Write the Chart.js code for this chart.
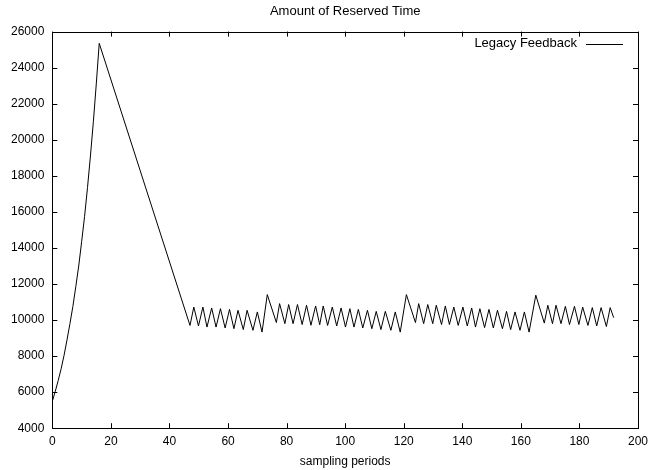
<!DOCTYPE html>
<html>
<head>
<meta charset="utf-8">
<script src="https://cdn.jsdelivr.net/npm/chart.js@4"></script>
<style>
html, body { margin: 0; padding: 0; background: #fff; }
</style>
</head>
<body>
<canvas id="myChart" width="650" height="470"></canvas>
<script>
// Dữ liệu: chu kỳ lấy mẫu và thời gian đặt trước
const chartTitle = 'Amount of Reserved Time';
const xTitle = 'sampling periods';
const seriesName = 'Legacy Feedback';

const periods = [
    0, 1, 2, 3, 4, 5, 6, 7, 8, 9, 10, 11, 12, 13, 14, 15, 16,
    47.0, 48.3, 49.9, 51.4, 52.8, 54.4, 55.9, 57.4, 59.0, 60.5, 62.0, 63.4, 65.2, 66.5, 68.5, 70.0, 71.6,
    73.4, 76.5, 77.6, 79.4, 80.7, 82.2, 83.7, 85.3, 86.8, 88.3, 89.9, 91.3, 92.5, 94.0, 95.6, 97.1, 98.6,
    100.1, 101.6, 103.0, 104.5, 106.0, 107.6, 109.1, 110.6, 112.2, 113.7, 115.6, 117.1, 118.8,
    120.9, 124.0, 125.1, 126.8, 128.2, 129.9, 131.1, 132.9, 134.2, 135.6, 137.1, 138.6, 140.2, 141.7,
    143.2, 144.5, 146.0, 147.6, 149.1, 150.6, 152.0, 153.7, 155.1, 156.5, 158.0, 159.7, 161.2, 162.8,
    165.1, 168.0, 169.2, 170.8, 172.0, 173.7, 175.2, 176.6, 178.3, 179.8, 181.1, 182.9, 184.4, 185.9,
    187.4, 189.2, 190.5, 191.7
];
const reservedTime = [
    5500, 6050, 6650, 7300, 8050, 8900, 9800, 10750, 11850, 13000, 14350, 15750, 17350, 19100, 21000, 23100, 25350,
    9700, 10720, 9670, 10720, 9610, 10670, 9610, 10630, 9560, 10590, 9520, 10540, 9470, 10540, 9430, 10450, 9330,
    11410, 9860, 10910, 9800, 10860, 9800, 10860, 9750, 10820, 9710, 10780, 9740, 10780, 9700, 10720, 9670, 10670,
    9610, 10630, 9610, 10590, 9560, 10540, 9520, 10480, 9470, 10480, 9430, 10450, 9330,
    11410, 9860, 10910, 9800, 10860, 9800, 10820, 9750, 10780, 9750, 10720, 9700, 10720, 9670,
    10670, 9610, 10630, 9580, 10590, 9560, 10540, 9520, 10480, 9470, 10450, 9430, 10450, 9330,
    11380, 9830, 10820, 9800, 10820, 9800, 10760, 9750, 10760, 9750, 10720, 9700, 10690, 9670,
    10690, 9640, 10690, 10130
];

// Giới hạn trục
const xMin = 0, xMax = 200, xStep = 20;
const yMin = 4000, yMax = 26000, yStep = 2000;

const fontFamily = '"Liberation Sans", Arial, Helvetica, sans-serif';

// Khung và vạch chia hướng vào trong (kiểu gnuplot)
const frameTicks = {
    id: 'frameTicks',
    afterDraw(chart) {
        const { ctx, chartArea: a, scales } = chart;
        const tl = 5;
        ctx.save();
        ctx.strokeStyle = '#000';
        ctx.lineWidth = 1;
        ctx.strokeRect(Math.round(a.left) + 0.5, Math.round(a.top) + 0.5,
            Math.round(a.right) - Math.round(a.left), Math.round(a.bottom) - Math.round(a.top));
        ctx.beginPath();
        for (const t of scales.x.ticks) {
            const px = Math.round(scales.x.getPixelForValue(t.value)) + 0.5;
            ctx.moveTo(px, a.bottom); ctx.lineTo(px, a.bottom - tl);
            ctx.moveTo(px, a.top); ctx.lineTo(px, a.top + tl);
        }
        for (const t of scales.y.ticks) {
            const py = Math.round(scales.y.getPixelForValue(t.value)) + 0.5;
            ctx.moveTo(a.left, py); ctx.lineTo(a.left + tl, py);
            ctx.moveTo(a.right, py); ctx.lineTo(a.right - tl, py);
        }
        ctx.stroke();

        // Chú thích: chữ bên trái, mẫu đường bên phải
        const ds = chart.data.datasets[0];
        const ly = a.top + 12;
        ctx.font = '13px ' + fontFamily;
        ctx.fillStyle = '#000';
        ctx.textAlign = 'right';
        ctx.textBaseline = 'middle';
        ctx.fillText(ds.label, a.right - 61, ly);
        ctx.beginPath();
        ctx.strokeStyle = ds.borderColor;
        ctx.lineWidth = ds.borderWidth;
        ctx.moveTo(a.right - 52, Math.round(ly) + 0.5);
        ctx.lineTo(a.right - 15, Math.round(ly) + 0.5);
        ctx.stroke();
        ctx.restore();
    }
};

const ctx = document.getElementById('myChart');
new Chart(ctx, {
    type: 'line',
    data: {
        datasets: [{
            label: seriesName,
            data: periods.map((p, i) => ({ x: p, y: reservedTime[i] })),
            borderColor: '#000',
            backgroundColor: '#000',
            borderWidth: 1,
            pointRadius: 0,
            tension: 0,
            fill: false
        }]
    },
    options: {
        responsive: false,
        animation: false,
        layout: { padding: { left: 3, right: 0, top: 0, bottom: 0 } },
        plugins: {
            title: {
                display: true,
                text: chartTitle,
                fullSize: false,
                color: '#000',
                font: { family: fontFamily, size: 13, weight: 'normal' },
                padding: { top: 4, bottom: 12 }
            },
            legend: { display: false },
            tooltip: { enabled: false }
        },
        scales: {
            x: {
                type: 'linear',
                min: xMin, max: xMax,
                grid: { display: false, drawTicks: false },
                border: { display: false },
                afterFit: scale => { scale.paddingRight = 12; },
                ticks: {
                    stepSize: xStep,
                    color: '#000',
                    padding: 6,
                    maxRotation: 0,
                    font: { family: fontFamily, size: 12 }
                },
                title: {
                    display: true,
                    text: xTitle,
                    color: '#000',
                    font: { family: fontFamily, size: 12 },
                    padding: { top: 0, bottom: 1 }
                }
            },
            y: {
                min: yMin, max: yMax,
                grid: { display: false, drawTicks: false },
                border: { display: false },
                ticks: {
                    stepSize: yStep,
                    color: '#000',
                    padding: 8,
                    font: { family: fontFamily, size: 12 },
                    callback: v => String(v)
                }
            }
        }
    },
    plugins: [frameTicks]
});
</script>
</body>
</html>
